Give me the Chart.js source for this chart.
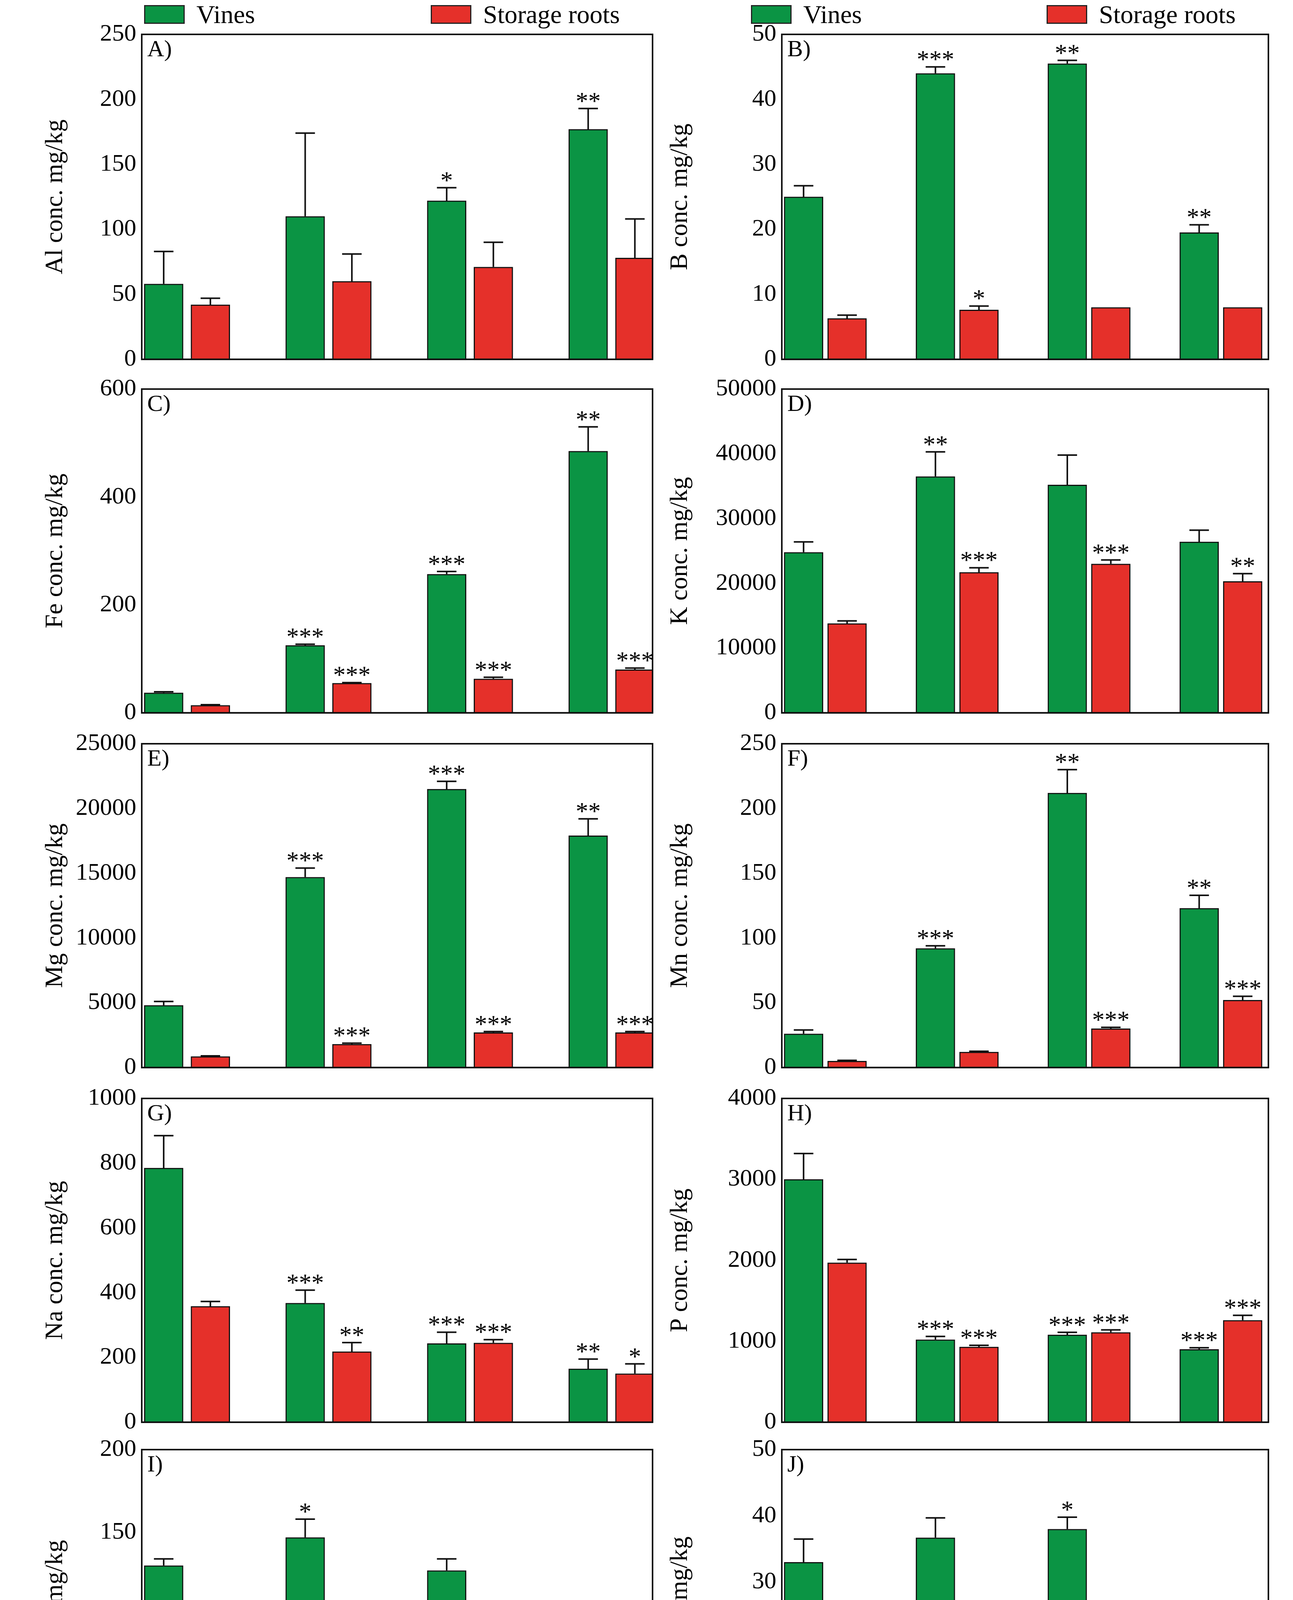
<!DOCTYPE html>
<html><head><meta charset="utf-8">
<script src="https://cdn.jsdelivr.net/npm/chart.js@4/dist/chart.umd.min.js"></script>
<style>
body{margin:0;width:3311px;height:4948px;background:#fff;position:relative;font-family:"Liberation Serif",serif;overflow:hidden}
canvas{position:absolute}
.lg{position:absolute;font-size:66px;color:#000;display:flex;align-items:center;gap:30px;line-height:1}
.bx{width:104px;height:48px;border:3px solid #222;box-sizing:border-box}
.xt{position:absolute;font-size:66px;transform:translateX(-50%)}
</style></head><body>
<script>
const categories=["Control","25%","50%","75%"];
const panelLabels=["A)","B)","C)","D)","E)","F)","G)","H)","I)","J)"];
const yTitles=["Al conc. mg/kg","B conc. mg/kg","Fe conc. mg/kg","K conc. mg/kg","Mg conc. mg/kg","Mn conc. mg/kg","Na conc. mg/kg","P conc. mg/kg","Si conc. mg/kg","Zn conc. mg/kg"];
const yMax=[250,50,600,50000,25000,250,1000,4000,200,50];
const yStep=[50,10,200,10000,5000,50,200,1000,50,10];
const vines=[[58,110,122,177],[25,44,45.5,19.5],[37,125,257,485],[24800,36500,35200,26400],[4800,14700,21500,17900],[26,92,212,123],[785,368,243,165],[3000,1020,1080,900],[130,147,127,53],[33,36.7,38,8.6]];
const vinesErr=[[25,64,10,16],[1.7,1,0.5,1.2],[2,2,5,45],[1600,3800,4600,1800],[300,700,600,1300],[3,2,18,10],[100,40,35,30],[320,40,30,20],[4,11,7,5],[3.5,3,1.8,1.2]];
const roots=[[42,60,71,78],[6.3,7.6,8,8],[14,55,63,80],[13800,21700,23000,20300],[850,1800,2700,2700],[5,12,30,52],[358,218,245,150],[1970,930,1110,1260],[17,20,15,17],[7.5,13.2,15.6,9.3]];
const rootsErr=[[5,21,19,30],[0.5,0.6,0,0],[1,1,3,3],[400,700,600,1200],[50,80,80,80],[0.5,0.5,1,3],[15,28,10,30],[40,20,30,60],[1,1,2,3],[0.5,0.6,2,0.6]];
const vinesStars=[["","","*","**"],["","***","**","**"],["","***","***","**"],["","**","",""],["","***","***","**"],["","***","**","**"],["","***","***","**"],["","***","***","***"],["","*","","***"],["","","*","***"]];
const rootsStars=[["","","",""],["","*","",""],["","***","***","***"],["","***","***","**"],["","***","***","***"],["","","***","***"],["","**","***","*"],["","***","***","***"],["","**","","*"],["","***","*","*"]];

const GREEN="#0b9444",RED="#e5302a",FONT="Liberation Serif";
const colL={left:100,plotL:363,plotR:1671,xmin:-0.32,xmax:3.29};
const colR={left:1700,plotL:2002,plotR:3248,xmin:-0.33,xmax:3.36};
const rowsY=[[88,933],[996,1838],[1904,2746],[2812,3654],[3711,4559]];

const extras={id:'extras',afterDatasetsDraw(c,a,o){
  const ctx=c.ctx,x=c.scales.x,y=c.scales.y,p=c.options.plugins.extras;
  ctx.save();ctx.strokeStyle="#111";ctx.lineWidth=4;
  c.data.datasets.forEach((ds,di)=>{
    ds.data.forEach((d,i)=>{
      const e=p.err[di][i],px=x.getPixelForValue(d.x),top=y.getPixelForValue(d.y+e),bt=y.getPixelForValue(d.y);
      if(e>0){ctx.beginPath();ctx.moveTo(px,bt);ctx.lineTo(px,top);ctx.moveTo(px-25,top);ctx.lineTo(px+25,top);ctx.stroke();}
      const s=p.stars[di][i];
      if(s){ctx.fillStyle="#000";ctx.font="64px "+FONT;ctx.textAlign="center";ctx.textBaseline="alphabetic";ctx.fillText(s,px,top+2);}
    });
  });
  const ca=c.chartArea;ctx.lineWidth=4;ctx.strokeRect(ca.left,ca.top,ca.right-ca.left,ca.bottom-ca.top);
  ctx.fillStyle="#000";ctx.font="60px "+FONT;ctx.textAlign="left";ctx.textBaseline="top";ctx.fillText(p.label,ca.left+14,ca.top+10);
  ctx.restore();
}};

for(let k=0;k<10;k++){
  const col=k%2?colR:colL,row=Math.floor(k/2),bottom=row===4;
  const [pt,pb]=rowsY[row];
  const top=pt-45,xh=bottom?300:30;
  const cv=document.createElement('canvas');
  const w=col.plotR+12-col.left,h=pb+xh-top;
  cv.width=w;cv.height=h;cv.style.left=col.left+'px';cv.style.top=top+'px';
  document.body.appendChild(cv);
  const off=0.165;
  new Chart(cv,{type:'bar',
    data:{datasets:[
      {label:"Vines",data:vines[k].map((v,i)=>({x:i-off,y:v})),backgroundColor:GREEN,borderColor:"#111",borderWidth:3,barThickness:100,grouped:false},
      {label:"Storage roots",data:roots[k].map((v,i)=>({x:i+off,y:v})),backgroundColor:RED,borderColor:"#111",borderWidth:3,barThickness:100,grouped:false}]},
    options:{responsive:false,animation:false,devicePixelRatio:1,
      layout:{padding:{top:45,right:12,left:0,bottom:0}},
      plugins:{legend:{display:false},tooltip:{enabled:false},
        extras:{err:[vinesErr[k],rootsErr[k]],stars:[vinesStars[k],rootsStars[k]],label:panelLabels[k]}},
      scales:{
        x:{type:'linear',min:col.xmin,max:col.xmax,offset:false,grid:{display:false,drawTicks:true},border:{color:"#111",width:4},
          afterBuildTicks:s=>{s.ticks=[0,1,2,3].map(v=>({value:v}));},
          afterFit:s=>{s.height=xh;},
          ticks:{display:bottom,color:"#000",font:{family:FONT,size:64},minRotation:45,maxRotation:45,callback:v=>categories[v]??""}},
        y:{min:0,max:yMax[k],grid:{display:false},border:{color:"#111",width:4},
          afterFit:s=>{s.width=col.plotL-col.left;},
          ticks:{stepSize:yStep[k],color:"#000",font:{family:FONT,size:62},padding:6,callback:v=>String(v)},
          title:{display:true,text:yTitles[k],color:"#000",font:{family:FONT,size:64},padding:{bottom:4}}}}},
    plugins:[extras]});
}
function legend(x,color,text){const d=document.createElement('div');d.className='lg';d.style.left=x+'px';d.style.top='4px';
  d.innerHTML='<div class="bx" style="background:'+color+'"></div><span>'+text+'</span>';document.body.appendChild(d);}
legend(369,GREEN,"Vines");legend(1103,RED,"Storage roots");legend(1923,GREEN,"Vines");legend(2680,RED,"Storage roots");
function xt(x,t){const d=document.createElement('div');d.className='xt';d.style.left=x+'px';d.style.top='4820px';d.textContent=t;document.body.appendChild(d);}
xt(977,"MGS1 treatments");xt(2565,"MGS1 treatments");
</script></body></html>
